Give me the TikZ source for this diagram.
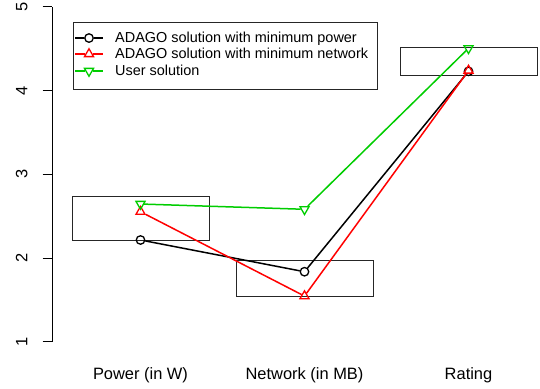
\documentclass[tikz,border=0pt]{standalone}
\usepackage{fontspec}
\setmainfont{Liberation Sans}
\usetikzlibrary{shapes.geometric}
\definecolor{rgreen}{RGB}{0,205,0}
\tikzset{
  ptcirc/.style={circle,draw,line width=1.3bp,inner sep=0pt,minimum size=8.5bp},
  pttriup/.style={regular polygon,regular polygon sides=3,draw,line width=1.3bp,inner sep=0pt,minimum size=10.5bp},
  pttridown/.style={pttriup,shape border rotate=180},
  conn/.style={draw,line width=1.5bp},
  rangebox/.style={draw,line width=0.8bp,black!85},
  axislbl/.style={font=\fontsize{16.5}{18}\selectfont,inner sep=0pt},
  legendlbl/.style={font=\fontsize{14.5}{16}\selectfont,inner sep=0pt,anchor=base west}
}
\begin{document}
\begin{tikzpicture}[x=164bp,y=83.7bp]
\useasboundingbox (0,0) rectangle (540bp,389bp);
\begin{scope}[shift={(-23.5bp,-36.4bp)}]

  \draw[line width=0.8bp] (0.4622,1) -- (0.4622,5);
  \foreach \v in {1,...,5} {
    \draw[line width=0.8bp] (0.4037,\v) -- (0.4622,\v);
    \node[axislbl,rotate=90] (y\v) at (0.2756,\v) {\v};
  }

  \draw[rangebox] (0.582,2.215) rectangle (1.418,2.741);
  \draw[rangebox] (1.582,1.542) rectangle (2.418,1.968);
  \draw[rangebox] (2.582,4.178) rectangle (3.418,4.513);

  \node[axislbl,anchor=base] (power)   at (1,0.554) {Power (in W)};
  \node[axislbl,anchor=base] (network) at (2,0.554) {Network (in MB)};
  \node[axislbl,anchor=base] (rating)  at (3,0.554) {Rating};

  \begin{scope}[every node/.style={ptcirc,black}]
    \node (a1) at (1,2.215) {};
    \node (a2) at (2,1.836) {};
    \node (a3) at (3,4.230) {};
  \end{scope}
  \path[every edge/.style={conn,black}] (a1) edge (a2) (a2) edge (a3);

  \begin{scope}[every node/.style={pttriup,red}]
    \node (b1) at (1,2.553) {};
    \node (b2) at (2,1.545) {};
    \node (b3) at (3,4.240) {};
  \end{scope}
  \path[every edge/.style={conn,red}] (b1) edge (b2) (b2) edge (b3);

  \begin{scope}[every node/.style={pttridown,rgreen}]
    \node (c1) at (1,2.645) {};
    \node (c2) at (2,2.582) {};
    \node (c3) at (3,4.505) {};
  \end{scope}
  \path[every edge/.style={conn,rgreen}] (c1) edge (c2) (c2) edge (c3);

  \draw[line width=0.8bp,black!85] (0.588,4.019) rectangle (2.442,4.820);

  \coordinate (la1) at (0.601,4.628);
  \coordinate (la2) at (0.771,4.628);
  \node[ptcirc,black] (la) at (0.686,4.628) {};
  \path[every edge/.style={conn,black}] (la1) edge (la) (la) edge (la2);
  \node[legendlbl] (lta) at (0.8445,4.580) {ADAGO solution with minimum power};

  \coordinate (lb1) at (0.601,4.437);
  \coordinate (lb2) at (0.771,4.437);
  \node[pttriup,red] (lb) at (0.686,4.437) {};
  \path[every edge/.style={conn,red}] (lb1) edge (lb) (lb) edge (lb2);
  \node[legendlbl] (ltb) at (0.8445,4.389) {ADAGO solution with minimum network};

  \coordinate (lc1) at (0.601,4.234);
  \coordinate (lc2) at (0.771,4.234);
  \node[pttridown,rgreen] (lc) at (0.686,4.234) {};
  \path[every edge/.style={conn,rgreen}] (lc1) edge (lc) (lc) edge (lc2);
  \node[legendlbl] (ltc) at (0.8445,4.186) {User solution};

\end{scope}
\end{tikzpicture}
\end{document}
